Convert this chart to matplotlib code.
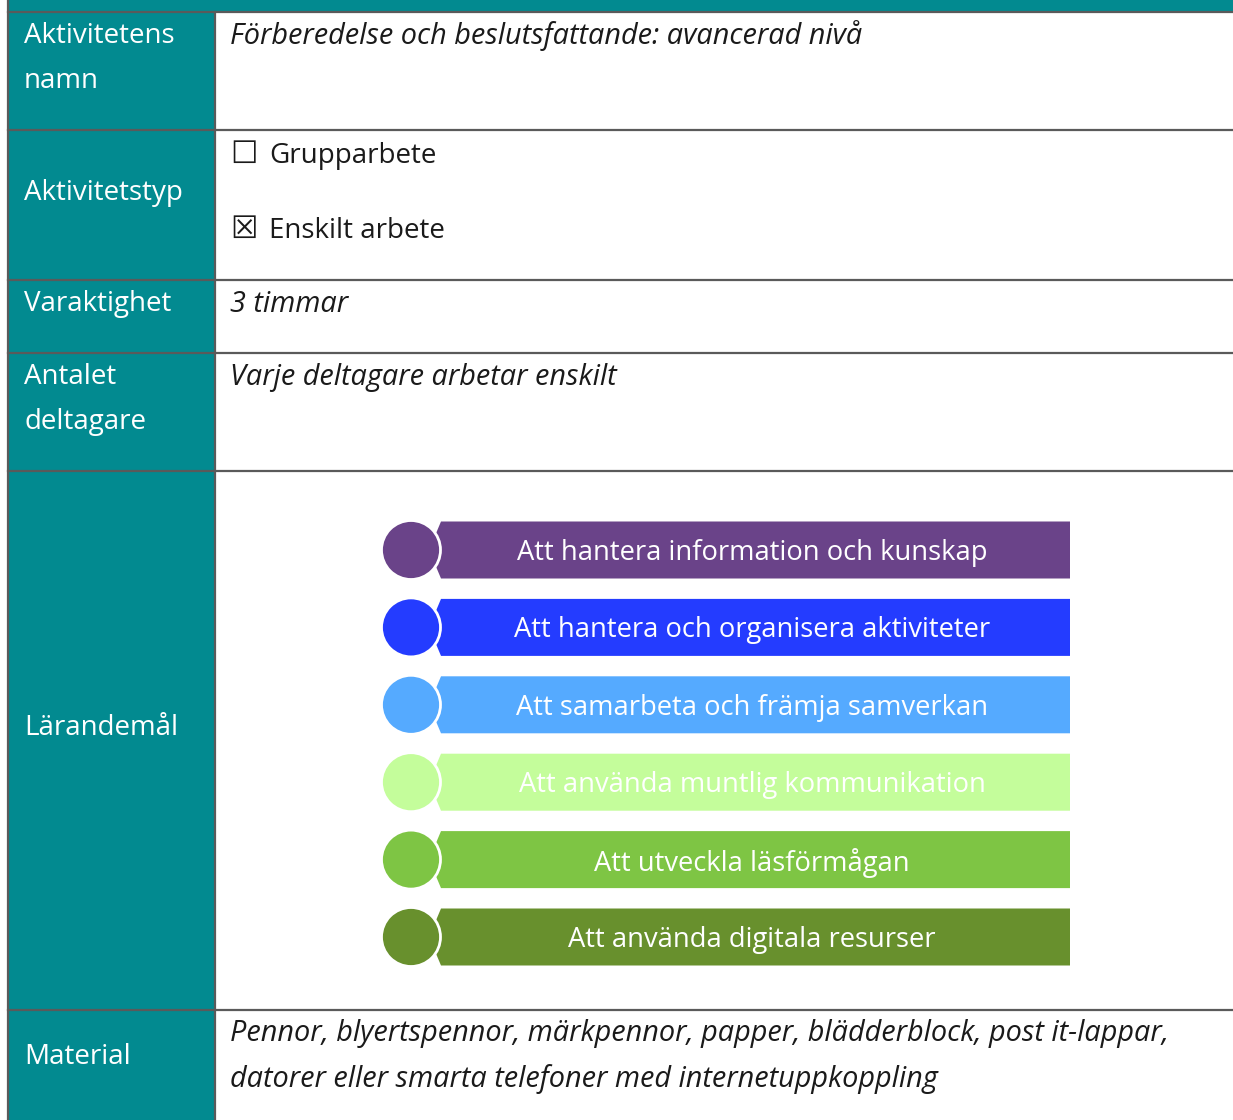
import matplotlib.pyplot as plt
from matplotlib.patches import Rectangle, Polygon, Circle

# Table content
row_labels = [["Aktivitetens", "namn"], ["Aktivitetstyp"], ["Varaktighet"],
              ["Antalet", "deltagare"], ["Lärandemål"], ["Material"]]
row_edges = [12, 130, 280, 353, 471, 1010, 1120]

activity_name = "Förberedelse och beslutsfattande: avancerad nivå"
activity_types = ["Grupparbete", "Enskilt arbete"]
activity_checked = [False, True]
duration = "3 timmar"
participants = "Varje deltagare arbetar enskilt"
material = ["Pennor, blyertspennor, märkpennor, papper, blädderblock, post it-lappar,",
            "datorer eller smarta telefoner med internetuppkoppling"]

goals = ["Att hantera information och kunskap",
         "Att hantera och organisera aktiviteter",
         "Att samarbeta och främja samverkan",
         "Att använda muntlig kommunikation",
         "Att utveckla läsförmågan",
         "Att använda digitala resurser"]
goal_colors = ["#6A4389", "#243CFF", "#55AAFF", "#C4FD9B", "#7EC544", "#68902D"]

teal = "#028A90"
grid = "#5A5A5A"
ink = "#1A1A1A"
W, H = 1233, 1120
left_x, split_x = 8, 215

fig = plt.figure(figsize=(W / 100, H / 100), dpi=100)
ax = fig.add_axes([0, 0, 1, 1])
ax.set_xlim(0, W)
ax.set_ylim(H, 0)
ax.axis("off")

# teal header strip and left column
ax.add_patch(Rectangle((left_x, 0), W - left_x, row_edges[0], color=teal, lw=0))
ax.add_patch(Rectangle((left_x, 0), split_x - left_x, H, color=teal, lw=0))

# grid lines
for y in row_edges[:-1]:
    ax.plot([left_x, W], [y, y], color=grid, lw=1.6)
ax.plot([left_x, left_x], [0, H], color=grid, lw=1.6)
ax.plot([split_x, split_x], [row_edges[0], H], color=grid, lw=1.6)

fam = ["Open Sans", "DejaVu Sans"]
fs = 20
fs_it = 20.8
dy = 3  # nudge so va=center lines up with the x-height centre

# left labels
label_y = [[33, 78], [190], [301], [374, 419], [725], [1054]]
for lines, ys in zip(row_labels, label_y):
    for txt, y in zip(lines, ys):
        ax.text(24, y + dy, txt, color="white", fontsize=fs, family=fam, va="center", ha="left")

# right column texts
tx = 230
ax.text(tx, 33 + dy, activity_name, color=ink, fontsize=fs_it, family=fam, style="italic", va="center")
for name, chk, y in zip(activity_types, activity_checked, [153, 228]):
    ax.text(230, y + 1, "☒" if chk else "☐", color=ink, fontsize=22, family=["DejaVu Sans"], va="center")
    ax.text(269, y + dy, name, color=ink, fontsize=fs, family=fam, va="center")
ax.text(tx, 301 + dy, duration, color=ink, fontsize=fs_it, family=fam, style="italic", va="center")
ax.text(tx, 374 + dy, participants, color=ink, fontsize=fs_it, family=fam, style="italic", va="center")
for txt, y in zip(material, [1031, 1076]):
    ax.text(tx, y + dy, txt, color=ink, fontsize=fs_it, family=fam, style="italic", va="center")

# learning goal bars
first_cy, step = 550, 77.4
half_h, r = 28.5, 29.5
cx, bx0, bx1 = 411, 441, 1070
for i, (g, c) in enumerate(zip(goals, goal_colors)):
    cy = first_cy + i * step
    ax.add_patch(Polygon([(bx0, cy - half_h), (bx1, cy - half_h), (bx1, cy + half_h),
                          (bx0, cy + half_h), (bx0 - 12, cy)], closed=True, color=c, lw=0))
    ax.add_patch(Circle((cx, cy), r, facecolor=c, edgecolor="white", lw=2))
    ax.text(752, cy + dy, g, color="white", fontsize=19.7, family=fam, ha="center", va="center")

fig.savefig("out.png", dpi=100)
